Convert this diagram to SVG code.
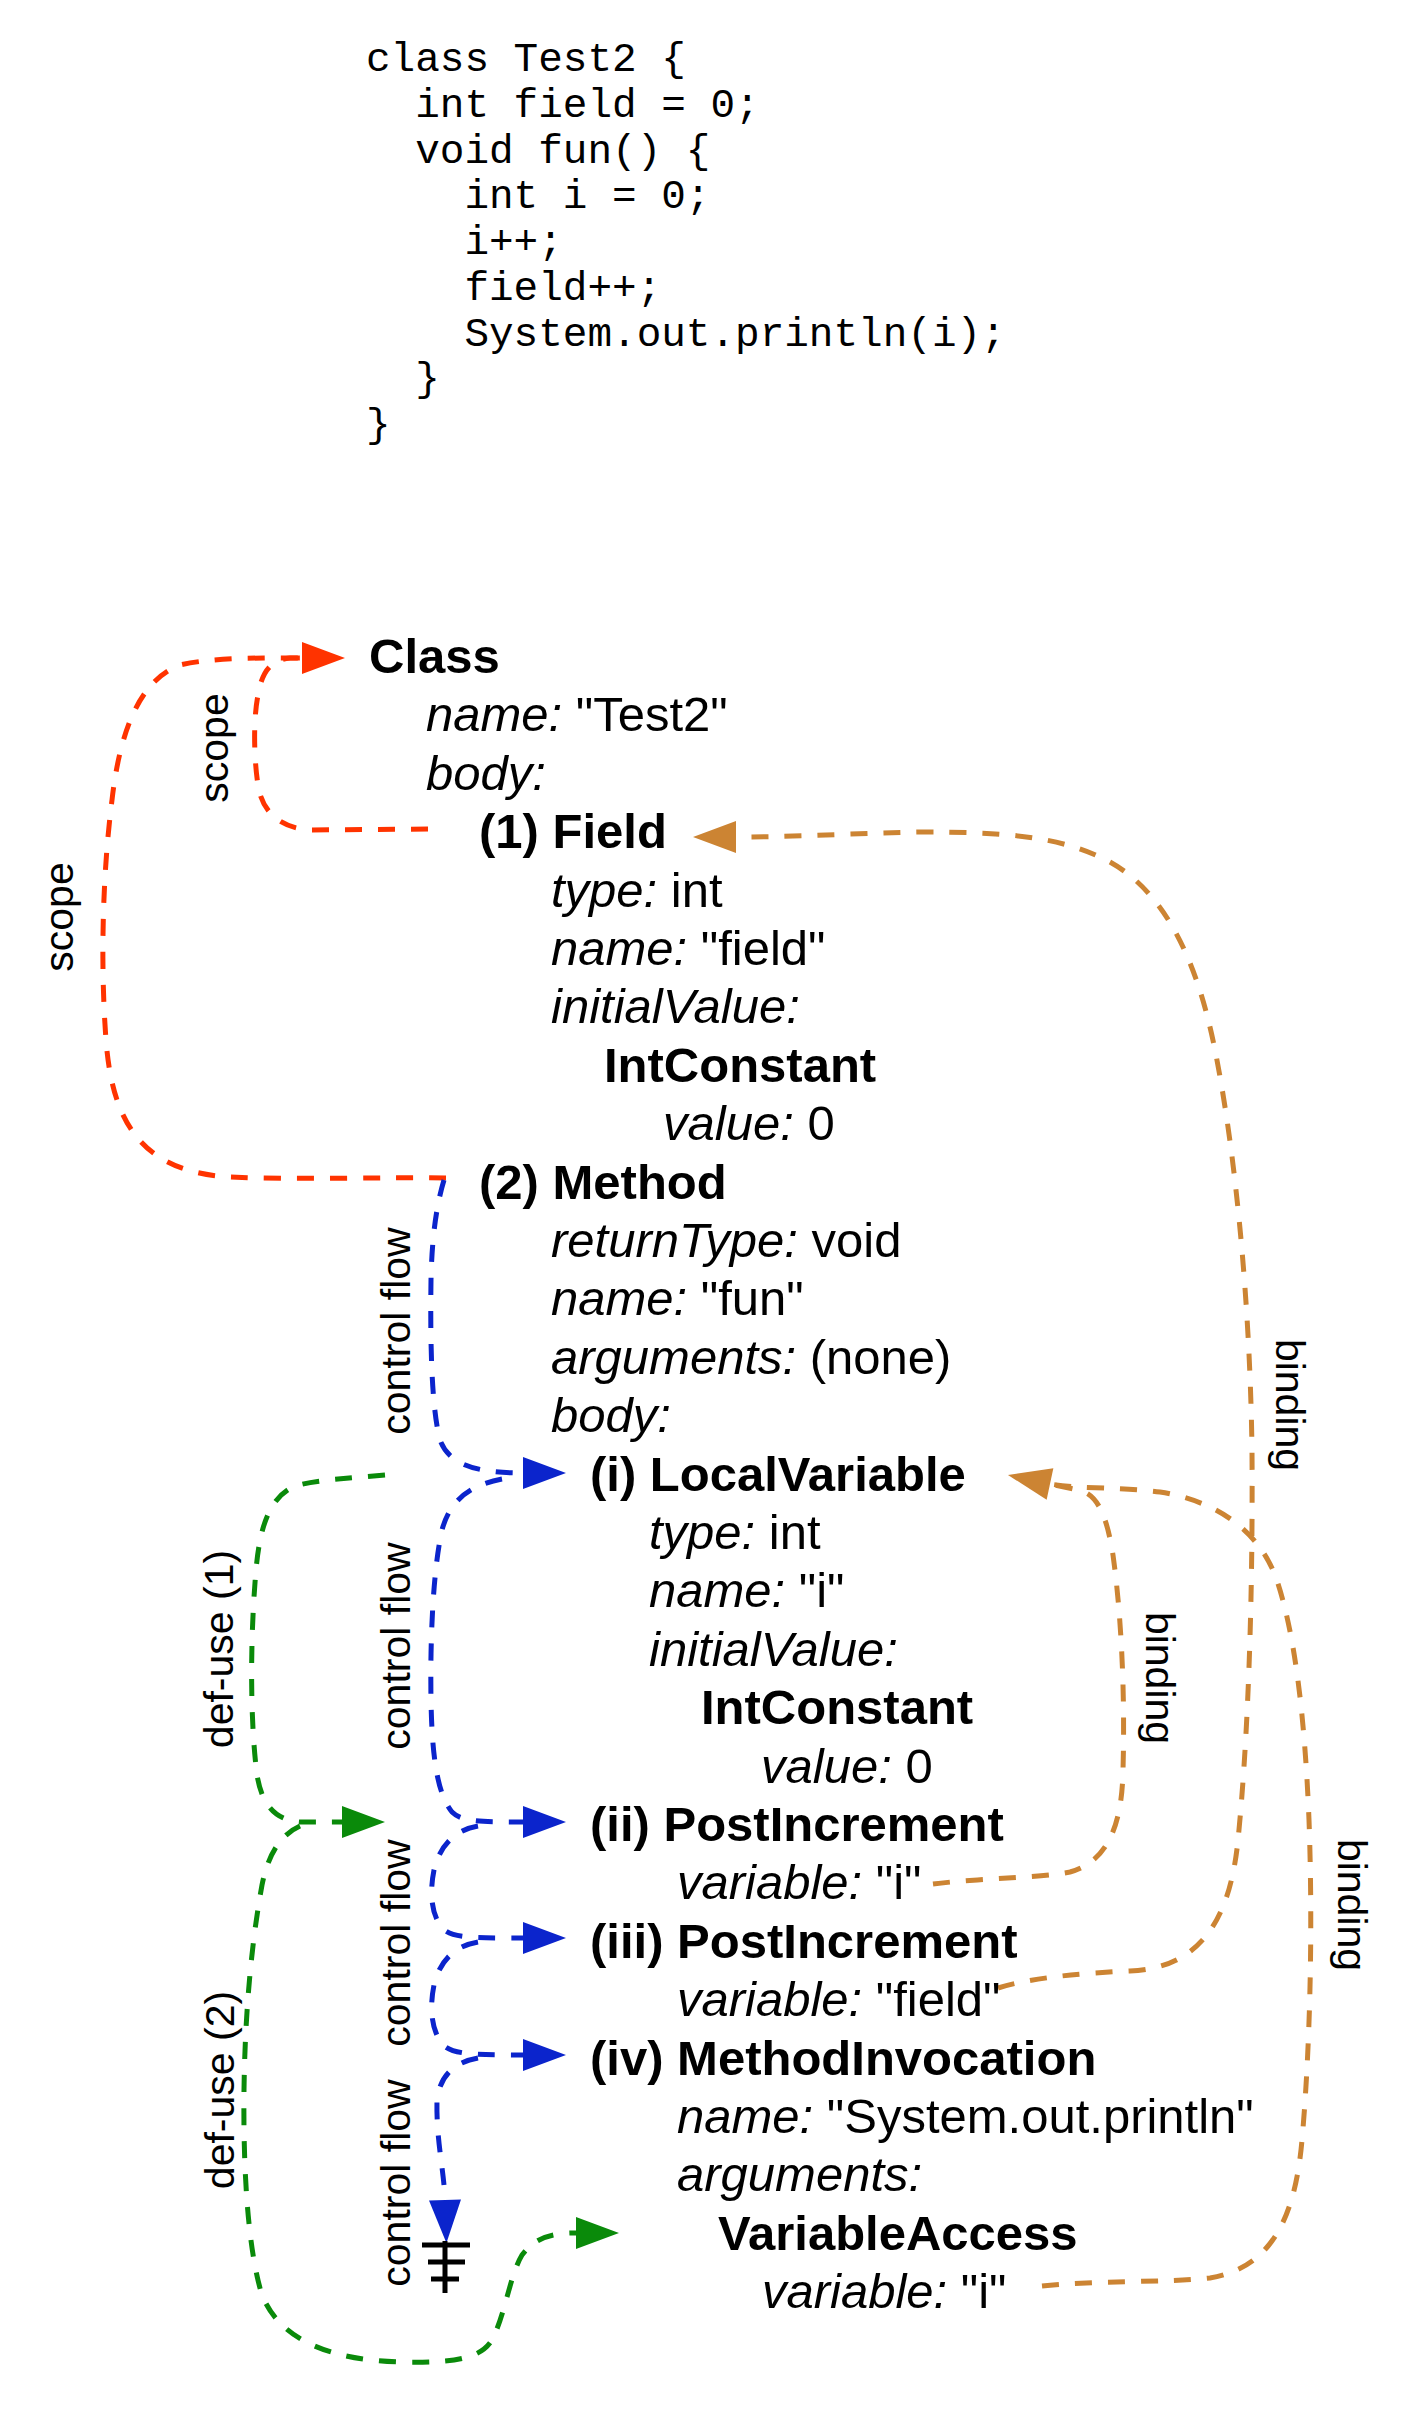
<svg xmlns="http://www.w3.org/2000/svg" width="1417" height="2425" viewBox="0 0 1417 2425">
<style>
.code{font-family:"Liberation Mono","Courier New",monospace;font-size:41px;fill:#000;white-space:pre}
.t{font-family:"Liberation Sans",Arial,Helvetica,sans-serif;font-size:49px;fill:#000}
.b{font-weight:bold}
.i{font-style:italic}
.lbl{font-family:"Liberation Sans",Arial,Helvetica,sans-serif;font-size:41px;fill:#000;text-anchor:middle}
.c{fill:none;stroke-width:5;stroke-dasharray:17 16}
.red{stroke:#ff3300}
.org{stroke:#cc8433}
.blu{stroke:#0b24cc}
.grn{stroke:#0a8a0a}
</style>
<defs>
<marker id="mRed" markerUnits="userSpaceOnUse" markerWidth="44" markerHeight="34" refX="0" refY="16" orient="auto" overflow="visible"><path d="M0,0 L43,16 L0,32 z" fill="#ff3300"/></marker>
<marker id="mOrg" markerUnits="userSpaceOnUse" markerWidth="44" markerHeight="34" refX="0" refY="16" orient="auto" overflow="visible"><path d="M0,0 L43,16 L0,32 z" fill="#cc8433"/></marker>
<marker id="mBlu" markerUnits="userSpaceOnUse" markerWidth="44" markerHeight="34" refX="0" refY="16" orient="auto" overflow="visible"><path d="M0,0 L43,16 L0,32 z" fill="#0b24cc"/></marker>
<marker id="mGrn" markerUnits="userSpaceOnUse" markerWidth="44" markerHeight="34" refX="0" refY="16" orient="auto" overflow="visible"><path d="M0,0 L43,16 L0,32 z" fill="#0a8a0a"/></marker>
</defs>
<rect width="1417" height="2425" fill="#fff"/>

<g id="code">
<text class="code" x="366" y="71">class Test2 {</text>
<text class="code" x="366" y="117">  int field = 0;</text>
<text class="code" x="366" y="163">  void fun() {</text>
<text class="code" x="366" y="208">    int i = 0;</text>
<text class="code" x="366" y="254">    i++;</text>
<text class="code" x="366" y="300">    field++;</text>
<text class="code" x="366" y="346">    System.out.println(i);</text>
<text class="code" x="366" y="391">  }</text>
<text class="code" x="366" y="437">}</text>
</g>

<g id="connectors">
<!-- scope -->
<path class="c red" d="M446,1178 C380,1177 300,1180 230,1177 C140,1172 112,1120 106,1040 C100,960 103,870 112,800 C120,730 140,680 180,665 C215,657 260,658 302,658" marker-end="url(#mRed)"/>
<path class="c red" d="M428,829 L310,830 C280,828 262,812 258,785 C254,760 253,720 258,695 C262,672 270,660 290,658 L302,658"/>
<text class="lbl" transform="translate(228,748) rotate(-90)">scope</text>
<text class="lbl" transform="translate(73,917) rotate(-90)">scope</text>
<!-- control flow -->
<path class="c blu" d="M444,1180 C438,1200 432,1230 431,1280 C430,1350 432,1410 440,1440 C448,1462 470,1473 523,1473" marker-end="url(#mBlu)"/>
<path class="c blu" d="M502,1479 C470,1485 450,1500 442,1530 C433,1570 430,1640 431,1700 C432,1760 438,1795 452,1812 C462,1822 480,1822 523,1822" marker-end="url(#mBlu)"/>
<path class="c blu" d="M478,1826 C455,1830 440,1845 434,1870 C429,1895 432,1915 442,1928 C452,1938 470,1938 523,1938" marker-end="url(#mBlu)"/>
<path class="c blu" d="M478,1942 C455,1946 440,1960 434,1985 C429,2010 432,2030 442,2044 C452,2054 470,2055 523,2055" marker-end="url(#mBlu)"/>
<path class="c blu" d="M478,2058 C455,2062 440,2075 437,2100 C436,2140 444,2170 445,2200" marker-end="url(#mBlu)"/>
<g stroke="#000" stroke-width="5" fill="none">
<path d="M445,2241 V2293 M422,2245 H470 M428,2262 H465 M431,2279 H459"/>
</g>
<text class="lbl" transform="translate(410,1331) rotate(-90)">control flow</text>
<text class="lbl" transform="translate(410,1646) rotate(-90)">control flow</text>
<text class="lbl" transform="translate(410,1943) rotate(-90)">control flow</text>
<text class="lbl" transform="translate(410,2183) rotate(-90)">control flow</text>
<!-- def-use -->
<path class="c grn" d="M385,1475 C350,1478 315,1480 295,1486 C270,1497 260,1525 256,1570 C250,1640 250,1720 257,1775 C262,1805 275,1820 300,1822 L342,1822" marker-end="url(#mGrn)"/>
<path class="c grn" d="M300,1826 C280,1835 268,1855 262,1885 C252,1940 245,2010 244,2090 C243,2170 248,2250 262,2295 C280,2340 330,2360 400,2362 C450,2363 480,2360 492,2340 C505,2315 510,2275 522,2255 C535,2238 550,2233 576,2233" marker-end="url(#mGrn)"/>
<text class="lbl" transform="translate(233,1649) rotate(-90)">def-use (1)</text>
<text class="lbl" transform="translate(234,2090) rotate(-90)">def-use (2)</text>
<!-- binding -->
<path class="c org" d="M998,1988 C1030,1978 1080,1973 1130,1971 C1200,1968 1230,1920 1238,1840 C1248,1740 1253,1600 1252,1450 C1250,1300 1235,1150 1215,1050 C1195,950 1160,890 1110,862 C1060,835 1000,832 920,832 C860,833 800,837 736,837" marker-end="url(#mOrg)"/>
<path class="c org" d="M933,1884 C980,1878 1040,1878 1070,1872 C1105,1862 1122,1830 1123,1770 C1125,1700 1122,1620 1113,1555 C1106,1510 1095,1493 1078,1490 L1050,1484" marker-end="url(#mOrg)"/>
<path class="c org" d="M1042,2286 C1100,2280 1160,2283 1210,2278 C1270,2268 1295,2220 1302,2140 C1310,2050 1313,1930 1309,1820 C1305,1720 1295,1630 1275,1575 C1255,1525 1210,1500 1160,1492 C1120,1487 1080,1489 1050,1484"/>
<text class="lbl" transform="translate(1276,1405) rotate(90)">binding</text>
<text class="lbl" transform="translate(1146,1678) rotate(90)">binding</text>
<text class="lbl" transform="translate(1338,1905) rotate(90)">binding</text>
</g>

<g id="class-node">
<text class="t b" x="369" y="673">Class</text>
<text class="t" x="426" y="731.4"><tspan class="i">name:</tspan> "Test2"</text>
<text class="t i" x="426" y="789.8">body:</text>
</g>
<g id="field-node">
<text class="t b" x="479" y="848.2">(1) Field</text>
<text class="t" x="551" y="906.6"><tspan class="i">type:</tspan> int</text>
<text class="t" x="551" y="965"><tspan class="i">name:</tspan> "field"</text>
<text class="t i" x="551" y="1023.4">initialValue:</text>
</g>
<g id="field-intconstant">
<text class="t b" x="604" y="1081.8">IntConstant</text>
<text class="t" x="663" y="1140.2"><tspan class="i">value:</tspan> 0</text>
</g>
<g id="method-node">
<text class="t b" x="479" y="1198.6">(2) Method</text>
<text class="t" x="551" y="1257"><tspan class="i">returnType:</tspan> void</text>
<text class="t" x="551" y="1315.4"><tspan class="i">name:</tspan> "fun"</text>
<text class="t" x="551" y="1373.8"><tspan class="i">arguments:</tspan> (none)</text>
<text class="t i" x="551" y="1432.2">body:</text>
</g>
<g id="localvariable-node">
<text class="t b" x="590" y="1490.6">(i) LocalVariable</text>
<text class="t" x="649" y="1549"><tspan class="i">type:</tspan> int</text>
<text class="t" x="649" y="1607.4"><tspan class="i">name:</tspan> "i"</text>
<text class="t i" x="649" y="1665.8">initialValue:</text>
</g>
<g id="local-intconstant">
<text class="t b" x="701" y="1724.2">IntConstant</text>
<text class="t" x="761" y="1782.6"><tspan class="i">value:</tspan> 0</text>
</g>
<g id="postincrement-i">
<text class="t b" x="590" y="1841">(ii) PostIncrement</text>
<text class="t" x="677" y="1899.4"><tspan class="i">variable:</tspan> "i"</text>
</g>
<g id="postincrement-field">
<text class="t b" x="590" y="1957.8">(iii) PostIncrement</text>
<text class="t" x="677" y="2016.2"><tspan class="i">variable:</tspan> "field"</text>
</g>
<g id="methodinvocation-node">
<text class="t b" x="590" y="2074.6">(iv) MethodInvocation</text>
<text class="t" x="677" y="2133"><tspan class="i">name:</tspan> "System.out.println"</text>
<text class="t i" x="677" y="2191.4">arguments:</text>
</g>
<g id="variableaccess-node">
<text class="t b" x="718" y="2249.8">VariableAccess</text>
<text class="t" x="762" y="2308.2"><tspan class="i">variable:</tspan> "i"</text>
</g>
</svg>
